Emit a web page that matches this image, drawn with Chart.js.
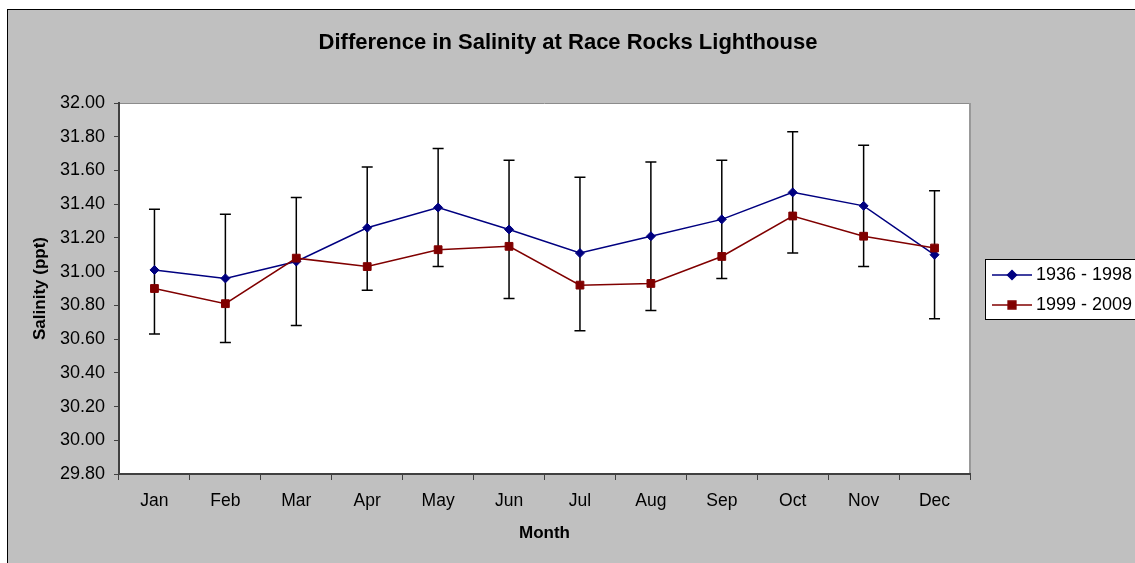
<!DOCTYPE html>
<html>
<head>
<meta charset="utf-8">
<title>Difference in Salinity at Race Rocks Lighthouse</title>
<script src="https://cdn.jsdelivr.net/npm/chart.js@4/dist/chart.umd.min.js"></script>
<style>
    html, body { margin: 0; padding: 0; background: #ffffff; }
    #wrap { position: relative; width: 1135px; height: 563px; }
</style>
</head>
<body>
<div id="wrap"><canvas id="salinityChart"></canvas></div>
<script>
// Chart data
const months = ['Jan', 'Feb', 'Mar', 'Apr', 'May', 'Jun', 'Jul', 'Aug', 'Sep', 'Oct', 'Nov', 'Dec'];
const seriesNames = ['1936 - 1998', '1999 - 2009'];
const salinityEarly = [31.01, 30.96, 31.06, 31.26, 31.38, 31.25, 31.11, 31.21, 31.31, 31.47, 31.39, 31.10];
const salinityLate = [30.90, 30.81, 31.08, 31.03, 31.13, 31.15, 30.92, 30.93, 31.09, 31.33, 31.21, 31.14];
// error bar ends for the 1936 - 1998 series
const errorHigh = [31.37, 31.34, 31.44, 31.62, 31.73, 31.66, 31.56, 31.65, 31.66, 31.83, 31.75, 31.48];
const errorLow = [30.63, 30.58, 30.68, 30.89, 31.03, 30.84, 30.65, 30.77, 30.96, 31.11, 31.03, 30.72];
const yTickValues = [29.8, 30.0, 30.2, 30.4, 30.6, 30.8, 31.0, 31.2, 31.4, 31.6, 31.8, 32.0];
const chartTitle = 'Difference in Salinity at Race Rocks Lighthouse';

const FONT = '"Liberation Sans", Arial, sans-serif';
const BLUE = '#000080';
const RED = '#800000';

document.addEventListener('DOMContentLoaded', function() {
    // Excel style background: gray frame, white plot area
    const backgroundPlugin = {
        id: 'excelBackground',
        beforeDraw(chart) {
            const ctx = chart.ctx;
            const area = chart.chartArea;
            ctx.save();
            ctx.fillStyle = '#c0c0c0';
            ctx.fillRect(7, 9, chart.width, chart.height);
            ctx.strokeStyle = '#000000';
            ctx.lineWidth = 1;
            ctx.strokeRect(7.5, 9.5, chart.width + 10, chart.height + 10);
            ctx.fillStyle = '#ffffff';
            ctx.fillRect(area.left, area.top, area.right - area.left, area.bottom - area.top);
            // plot area border (top / right)
            ctx.strokeStyle = '#8c8c8c';
            ctx.beginPath();
            ctx.moveTo(area.left, area.top + 0.5);
            ctx.lineTo(area.right, area.top + 0.5);
            ctx.stroke();
            ctx.lineWidth = 2;
            ctx.strokeStyle = '#999999';
            ctx.beginPath();
            ctx.moveTo(area.right, area.top);
            ctx.lineTo(area.right, area.bottom);
            ctx.stroke();
            // chart title, centred on the whole frame (not just the plot)
            ctx.fillStyle = '#000000';
            ctx.font = 'bold 22px ' + FONT;
            ctx.textAlign = 'center';
            ctx.textBaseline = 'middle';
            ctx.fillText(chartTitle, 568, 42.5);
            ctx.restore();
        }
    };

    // Error bars drawn through the chart scales
    const errorBarPlugin = {
        id: 'errorBars',
        beforeDatasetsDraw(chart) {
            const ctx = chart.ctx;
            const xScale = chart.scales.x;
            const yScale = chart.scales.y;
            ctx.save();
            ctx.strokeStyle = '#000000';
            ctx.lineWidth = 1.5;
            months.forEach((m, i) => {
                const x = xScale.getPixelForValue(i);
                const yTop = yScale.getPixelForValue(errorHigh[i]);
                const yBot = yScale.getPixelForValue(errorLow[i]);
                ctx.beginPath();
                ctx.moveTo(x, yTop);
                ctx.lineTo(x, yBot);
                ctx.moveTo(x - 5.5, yTop);
                ctx.lineTo(x + 5.5, yTop);
                ctx.moveTo(x - 5.5, yBot);
                ctx.lineTo(x + 5.5, yBot);
                ctx.stroke();
            });
            ctx.restore();
        }
    };

    // Legend box at the right, line with marker like Excel
    const legendPlugin = {
        id: 'excelLegend',
        afterDraw(chart) {
            const ctx = chart.ctx;
            ctx.save();
            ctx.fillStyle = '#ffffff';
            ctx.fillRect(985.5, 259.5, 160, 60);
            ctx.strokeStyle = '#000000';
            ctx.lineWidth = 1;
            ctx.strokeRect(985.5, 259.5, 160, 60);
            const rows = [
                { y: 275, color: BLUE, style: 'rectRot', radius: 4.5 },
                { y: 305, color: RED, style: 'rect', radius: 5.5 }
            ];
            rows.forEach((row, i) => {
                ctx.strokeStyle = row.color;
                ctx.lineWidth = 1.5;
                ctx.beginPath();
                ctx.moveTo(992, row.y);
                ctx.lineTo(1032, row.y);
                ctx.stroke();
                ctx.fillStyle = row.color;
                Chart.helpers.drawPoint(ctx, { pointStyle: row.style, radius: row.radius, borderWidth: 1 }, 1012, row.y);
                ctx.fillStyle = '#000000';
                ctx.font = '18px ' + FONT;
                ctx.textAlign = 'left';
                ctx.textBaseline = 'middle';
                ctx.fillText(seriesNames[i], 1036, row.y);
            });
            ctx.restore();
        }
    };

    const ctx = document.getElementById('salinityChart').getContext('2d');
    const salinityChart = new Chart(ctx, {
        type: 'line',
        data: {
            labels: months,
            datasets: [{
                label: seriesNames[0],
                data: salinityEarly,
                borderColor: BLUE,
                backgroundColor: BLUE,
                borderWidth: 1.5,
                pointStyle: 'rectRot',
                pointRadius: 4.5,
                pointBorderWidth: 1,
                tension: 0,
                fill: false,
                order: 1
            }, {
                label: seriesNames[1],
                data: salinityLate,
                borderColor: RED,
                backgroundColor: RED,
                borderWidth: 1.5,
                pointStyle: 'rect',
                pointRadius: 5.5,
                pointBorderWidth: 1,
                tension: 0,
                fill: false,
                order: 0
            }]
        },
        options: {
            responsive: true,
            maintainAspectRatio: false,
            animation: false,
            layout: {
                padding: { left: 0, right: 165, top: 103, bottom: 0 }
            },
            scales: {
                x: {
                    offset: true,
                    afterFit: scale => { scale.height = 89; },
                    grid: {
                        offset: true,
                        drawOnChartArea: false,
                        drawTicks: true,
                        tickLength: 6,
                        tickColor: '#404040',
                        lineWidth: 1
                    },
                    border: { color: '#404040', width: 2 },
                    ticks: {
                        color: '#000000',
                        padding: 11,
                        font: { family: FONT, size: 17.5 }
                    },
                    title: {
                        display: true,
                        text: 'Month',
                        color: '#000000',
                        padding: { top: 0, bottom: 19 },
                        font: { family: FONT, size: 17, weight: 'bold' }
                    }
                },
                y: {
                    min: 29.8,
                    max: 32,
                    afterFit: scale => { scale.width = 119; },
                    afterBuildTicks: scale => {
                        scale.ticks = yTickValues.map(v => ({ value: v }));
                    },
                    grid: {
                        drawOnChartArea: false,
                        drawTicks: true,
                        tickLength: 5,
                        tickColor: '#404040',
                        lineWidth: 1
                    },
                    border: { color: '#404040', width: 2 },
                    ticks: {
                        color: '#000000',
                        padding: 9,
                        font: { family: FONT, size: 18 },
                        callback: value => Number(value).toFixed(2)
                    },
                    title: {
                        display: true,
                        text: 'Salinity (ppt)',
                        color: '#000000',
                        padding: { top: 30, bottom: 0 },
                        font: { family: FONT, size: 17, weight: 'bold' }
                    }
                }
            },
            plugins: {
                legend: { display: false },
                tooltip: { enabled: false },
                title: { display: false }
            }
        },
        plugins: [backgroundPlugin, errorBarPlugin, legendPlugin]
    });
});
</script>
</body>
</html>
